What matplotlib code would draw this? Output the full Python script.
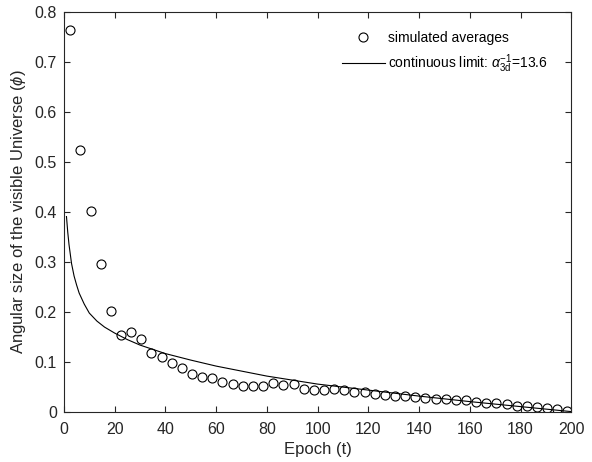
import matplotlib
matplotlib.use('Agg')
import matplotlib.pyplot as plt
from matplotlib.ticker import FixedLocator

plt.rcParams['font.family'] = ['Liberation Sans', 'DejaVu Sans']
plt.rcParams['mathtext.fontset'] = 'custom'
plt.rcParams['mathtext.rm'] = 'Liberation Sans'
plt.rcParams['mathtext.it'] = 'Liberation Sans:italic'

# simulated averages (every 4 epochs)
epoch = [2.5 + 4 * k for k in range(50)]
phi_sim = [0.765, 0.524, 0.402, 0.297, 0.202, 0.154, 0.160, 0.147, 0.118, 0.110,
           0.098, 0.088, 0.076, 0.070, 0.069, 0.061, 0.057, 0.052, 0.053, 0.053,
           0.058, 0.055, 0.056, 0.047, 0.045, 0.045, 0.047, 0.044, 0.040, 0.040,
           0.037, 0.035, 0.032, 0.033, 0.030, 0.028, 0.027, 0.026, 0.025, 0.024,
           0.021, 0.019, 0.018, 0.016, 0.013, 0.012, 0.011, 0.009, 0.007, 0.002]

# continuous limit curve
t_cont = [1, 1.5, 2, 3, 4, 5, 6, 8, 10, 13, 16, 20, 25, 30, 40, 50, 60, 70,
          80, 90, 100, 120, 140, 160, 180, 200]
phi_cont = [0.391, 0.360, 0.335, 0.297, 0.272, 0.254, 0.238, 0.216, 0.198,
            0.182, 0.170, 0.158, 0.145, 0.134, 0.117, 0.104, 0.092, 0.082,
            0.072, 0.064, 0.056, 0.044, 0.032, 0.021, 0.011, 0.001]

xticks = list(range(0, 201, 20))
yticks = [0, 0.1, 0.2, 0.3, 0.4, 0.5, 0.6, 0.7, 0.8]
ytick_labels = ['0', '0.1', '0.2', '0.3', '0.4', '0.5', '0.6', '0.7', '0.8']

fig = plt.figure(figsize=(5.92, 4.62), dpi=100)
ax = fig.add_axes([0.108, 0.108, 0.857, 0.866])

ax.plot(epoch, phi_sim, 'o', mfc='none', mec='k', ms=6.5, mew=0.8,
        label='simulated averages')
ax.plot(t_cont, phi_cont, '-', color='k', lw=0.8,
        label=r'continuous limit: $\alpha^{-1}_{\rm 3d}$=13.6')

ax.set_xlim(0, 200)
ax.set_ylim(0, 0.8)
ax.xaxis.set_major_locator(FixedLocator(xticks))
ax.set_yticks(yticks)
ax.set_yticklabels(ytick_labels)

grey = '#262626'
for s in ax.spines.values():
    s.set_color(grey)
    s.set_linewidth(0.8)
ax.tick_params(direction='in', top=True, right=True, length=4, width=0.8,
               colors=grey, labelsize=11.5)
ax.tick_params(axis='x', pad=7)
ax.tick_params(axis='y', pad=5)

ax.set_xlabel('Epoch (t)', fontsize=12, color=grey, labelpad=4)
ax.set_ylabel(r'Angular size of the visible Universe ($\phi$)', fontsize=12,
              color=grey, labelpad=5)

leg = ax.legend(loc='upper left', frameon=False, fontsize=10,
                handlelength=3.1, handletextpad=0.25, labelspacing=0.55,
                bbox_to_anchor=(0.523, 0.984))

fig.savefig('out.png', dpi=100)
